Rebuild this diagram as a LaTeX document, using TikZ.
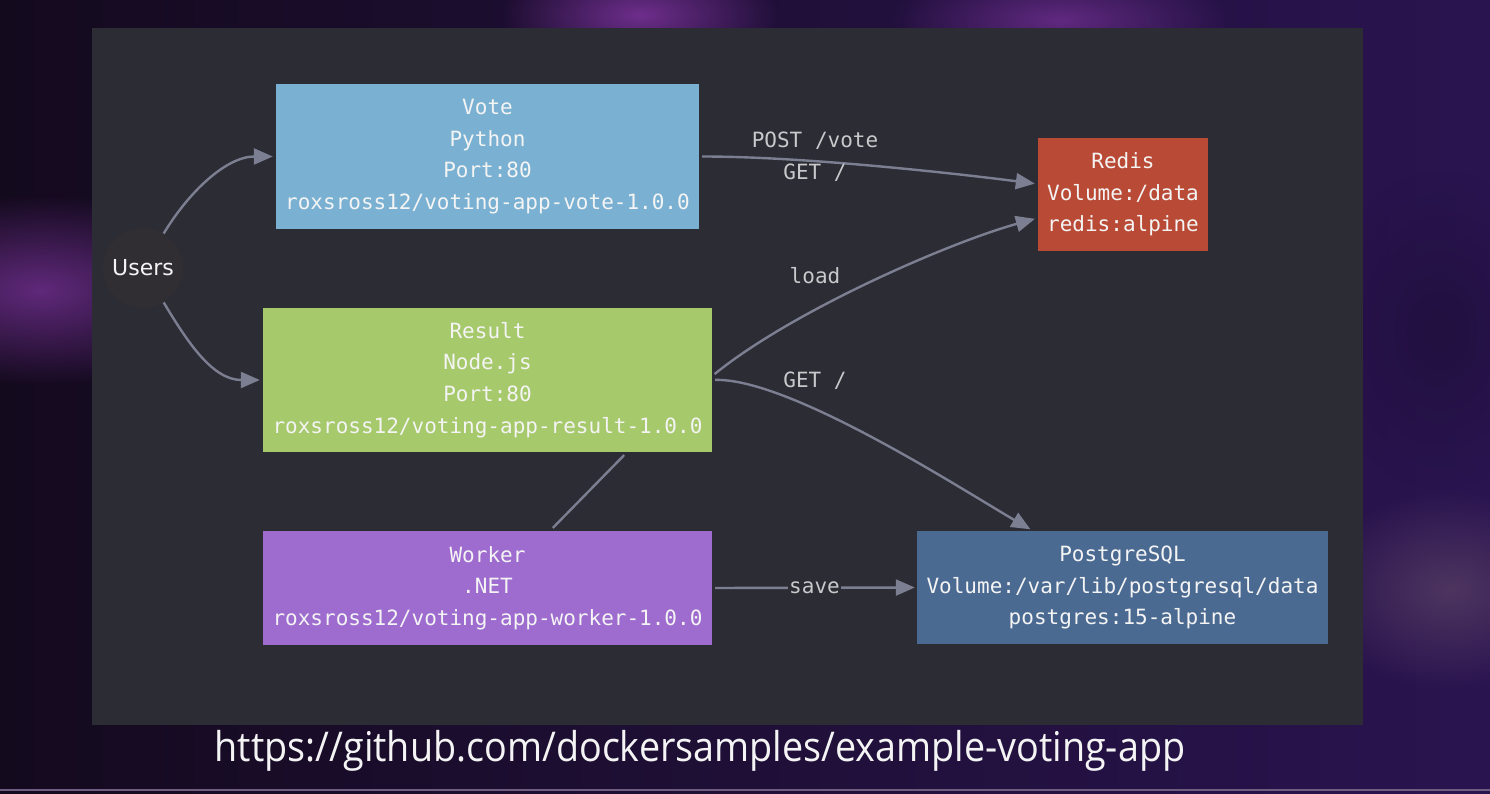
\documentclass[tikz,border=0pt]{standalone}
\usepackage{fontspec}
\newfontfamily\monof{DejaVu Sans Mono}
\newfontfamily\usersf{DejaVu Sans}
\newfontfamily\urlf[FakeStretch=0.92]{Open Sans}
\usetikzlibrary{arrows.meta,fadings}
\tikzfading[name=myglow, inner color=transparent!0, outer color=transparent!100]
\definecolor{bgL}{HTML}{140A1E}
\definecolor{bgR}{HTML}{2A1450}
\definecolor{glowA}{HTML}{6E2E8C}
\definecolor{glowB}{HTML}{4E3560}
\definecolor{panel}{HTML}{2B2C34}
\definecolor{votec}{HTML}{7AB1D2}
\definecolor{resultc}{HTML}{A6C96B}
\definecolor{workerc}{HTML}{9E6BCF}
\definecolor{redisc}{HTML}{B94A36}
\definecolor{pgc}{HTML}{4B6A92}
\definecolor{edgec}{HTML}{7C7F92}
\definecolor{labelc}{HTML}{C9C9CC}
\definecolor{txtc}{HTML}{F4F4F4}
\definecolor{halo}{HTML}{302D33}
\tikzset{
  svc/.style={rectangle, inner sep=0pt, align=center, text=txtc,
    font=\monof\fontsize{21}{31.7}\selectfont},
  conn/.style={draw=edgec, line width=2.4pt,
    -{Triangle[length=19pt,width=16pt]}},
  plain/.style={draw=edgec, line width=2.4pt},
  lbl/.style={text=labelc, font=\monof\fontsize{21}{25}\selectfont, inner sep=1pt},
}
\begin{document}
\begin{tikzpicture}[x=1pt,y=-1pt]
\useasboundingbox (0,0) rectangle (1490,794);
% background
\fill[left color=bgL, right color=bgR] (0,0) rectangle (1490,794);
\fill[glowA, path fading=myglow] (640,15) ellipse [x radius=140, y radius=60];
\fill[glowA!80!bgR, path fading=myglow] (1060,20) ellipse [x radius=170, y radius=55];
\fill[glowA!85!bgL, path fading=myglow] (40,290) ellipse [x radius=200, y radius=95];
\fill[glowB, path fading=myglow] (1450,590) ellipse [x radius=140, y radius=100];
\fill[bgR!80!black, path fading=myglow] (1440,330) ellipse [x radius=120, y radius=160];
\draw[line width=1.5pt, color=glowB!80!white] (0,790) -- (1490,790);
% panel
\fill[panel] (92,28) rectangle (1363,725);
% nodes
\node[circle, fill=halo, minimum size=80pt, inner sep=0pt, text=txtc,
  font=\usersf\fontsize{22}{26}\selectfont] (users) at (143,268) {Users};
\node[svc, fill=votec, minimum width=423pt, minimum height=145pt] (vote) at (487.5,156.5)
  {Vote\\Python\\Port:80\\roxsross12/voting-app-vote-1.0.0};
\node[svc, fill=resultc, minimum width=449pt, minimum height=144pt] (result) at (487.5,380)
  {Result\\Node.js\\Port:80\\roxsross12/voting-app-result-1.0.0};
\node[svc, fill=workerc, minimum width=449pt, minimum height=114pt] (worker) at (487.5,588)
  {Worker\\.NET\\roxsross12/voting-app-worker-1.0.0};
\node[svc, fill=redisc, minimum width=170pt, minimum height=113pt] (redis) at (1123,194.5)
  {Redis\\Volume:/data\\redis:alpine};
\node[svc, fill=pgc, minimum width=411pt, minimum height=113pt] (pg) at (1122.5,587.5)
  {PostgreSQL\\Volume:/var/lib/postgresql/data\\postgres:15-alpine};
% connectors
\draw[conn, shorten >=3pt] (users) .. controls +(45,-75) and +(-50,0) .. (vote.west);
\draw[conn, shorten >=3pt] (users) .. controls +(45,75) and +(-50,0) .. (result.west);
\draw[conn, shorten <=3pt, shorten >=3pt] (vote.east) .. controls +(110,0) and +(-70,-9) .. ([yshift=10.5pt]redis.west);
\node[lbl] (lpost) at (815,141) {POST /vote};
\node[lbl] (lget1) at (815,173) {GET /};
\draw[conn, shorten <=3pt, shorten >=3pt] ([yshift=4pt]result.east) .. controls +(80,-65) and +(-90,25) .. ([yshift=-23.5pt]redis.west);
\node[lbl] (lload) at (815,276) {load};
\draw[conn, shorten <=3pt, shorten >=3pt] (result.east) .. controls +(78,-2) and +(-69,-40) .. ([xshift=-89.5pt]pg.north);
\node[lbl, fill=panel] (lget2) at (815,381) {GET /};
\draw[plain, shorten <=4pt, shorten >=4pt] ([xshift=62.5pt]worker.north) -- ([xshift=139.5pt]result.south);
\draw[conn, shorten <=3pt, shorten >=2pt] (worker.east) -- node[lbl, fill=panel] (lsave) {save} (pg.west);
% url
\node[text=txtc, font=\urlf\fontsize{41}{48}\selectfont, inner sep=0pt] (url) at (700,751)
  {https://github.com/dockersamples/example-voting-app};
\end{tikzpicture}
\end{document}
